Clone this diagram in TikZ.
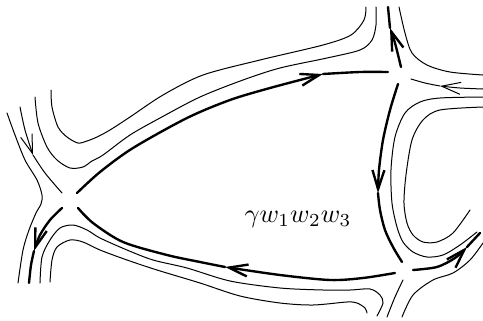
\documentclass[tikz,border=0pt]{standalone}
\usetikzlibrary{arrows.meta}
\begin{document}
\begin{tikzpicture}[
        x=0.4pt, y=-0.4pt,
        rim/.style={thin, line cap=round},
        face/.style={line width=0.95pt, line cap=round},
        barb/.style={-{Straight Barb[length=7.6pt,width=4.8pt]}}
    ]
        \useasboundingbox (0,0) rectangle (483,321);

        % ribbon on the upper left and along the top
        \draw[rim] plot[smooth] coordinates {(7,113) (15,135) (25,160) (37,180) (42,195) (41,204) (36,213) (29,230) (23,250) (18,283)};
        \draw[rim, barb] plot[smooth] coordinates {(20,107) (25,130) (33,155)};
        \draw[rim] plot[smooth] coordinates {(33,155) (45,173) (62,193)};
        \draw[rim] plot[smooth] coordinates {(35,97) (38,123) (47,147) (57,160) (70,168) (83,167) (92,161) (103,155) (130,135) (160,118) (200,97) (243,80) (280,68) (327,58) (360,50) (372,40) (376,25) (376,7)};
        \draw[rim] plot[smooth] coordinates {(51,90) (52,107) (58,127) (67,137) (78,143) (87,141) (97,137) (110,130) (130,117) (163,95) (203,75) (260,60) (323,45) (351,35) (364,20) (366,7)};

        % ribbons round the upper right corner
        \draw[rim] plot[smooth] coordinates {(399,7) (405,33) (412,53) (427,65) (450,72) (483,75)};
        \draw[rim, barb] plot[smooth] coordinates {(483,89) (460,88) (440,86)};
        \draw[rim] plot[smooth] coordinates {(440,86) (425,83) (411,79)};
        \draw[rim] plot[smooth] coordinates {(483,97) (440,98) (420,102) (405,113) (395,137) (391,170) (392,203) (397,227) (403,242) (413,252) (427,257) (443,255) (460,245) (477,232)};
        \draw[rim] plot[smooth] coordinates {(483,107) (440,110) (423,120) (412,140) (406,175) (404,203) (407,223) (413,235) (423,242) (437,242) (453,233) (470,210)};

        % ribbons at the bottom
        \draw[rim] plot[smooth] coordinates {(402,317) (413,295) (433,280) (453,273) (470,260) (483,243)};
        \draw[rim] plot[smooth] coordinates {(387,317) (395,297) (403,280)};
        \draw[rim] plot[smooth] coordinates {(40,283) (42,257) (50,240) (60,228) (73,225) (87,230) (100,238) (127,250) (153,260) (187,268) (230,281) (280,288) (323,290) (350,290) (370,289) (380,295) (383,303) (377,316)};
        \draw[rim] plot[smooth] coordinates {(50,282) (52,260) (57,247) (70,240) (83,242) (100,250) (127,260) (157,270) (200,283) (240,296) (280,303) (313,305) (347,302) (357,303) (365,308) (367,313)};

        % boundary of the face
        \draw[face, barb] plot[smooth] coordinates {(77,193) (100,172) (133,148) (187,118) (230,100) (270,88) (323,74)};
        \draw[face] plot[smooth] coordinates {(323,74) (360,72) (388,72)};
        \draw[face, barb] plot[smooth] coordinates {(401,67) (395,43) (390,28)};
        \draw[face] plot[smooth] coordinates {(390,28) (388,7)};
        \draw[face, barb] plot[smooth] coordinates {(398,84) (390,110) (383,140) (379,170) (378,193)};
        \draw[face] plot[smooth] coordinates {(378,193) (380,210) (385,230) (393,247) (402,262)};
        \draw[face, barb] plot[smooth] coordinates {(395,273) (363,278) (330,280) (280,275) (225,267)};
        \draw[face] plot[smooth] coordinates {(225,267) (200,262) (167,255) (123,242) (93,223) (78,208)};
        \draw[face, barb] plot[smooth] coordinates {(62,208) (50,220) (40,235) (34,251)};
        \draw[face] plot[smooth] coordinates {(34,251) (31,265) (29,283)};
        \draw[face, barb] plot[smooth] coordinates {(413,270) (437,267) (455,258) (467,247)};
        \draw[face] plot[smooth] coordinates {(467,247) (480,233)};

        \node[scale=1.05] (word) at (298,219) {$\gamma w_1 w_2 w_3$};
    \end{tikzpicture}
\end{document}
